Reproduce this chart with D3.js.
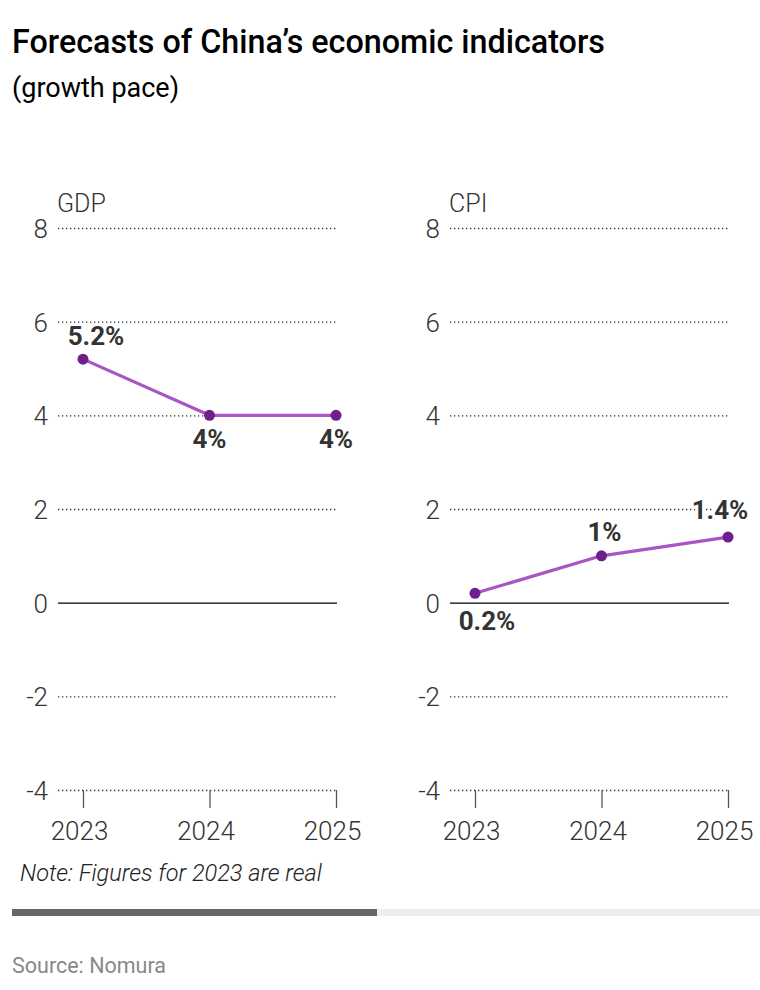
<!DOCTYPE html>
<html>
<head>
<meta charset="utf-8">
<script src="https://cdn.jsdelivr.net/npm/d3@7"></script>
<style>
  body { margin: 0; background: #fff; font-family: Roboto, sans-serif; }
  .title { font-size: 32.3px; font-weight: 500; fill: #000; }
  .subTitle { font-size: 27px; font-weight: 400; fill: #000; }
  .tick text { font-family: Roboto, sans-serif; font-size: 26px; font-weight: 300; fill: #333; }
  .panel-name { font-size: 25px; font-weight: 300; fill: #333; }
  .value-label { font-size: 26px; font-weight: 700; fill: #333; stroke: #fff; stroke-width: 6px; paint-order: stroke; stroke-linejoin: round; }
  .note { font-size: 23.5px; font-style: italic; font-weight: 300; fill: #222; }
  .source { font-size: 21.5px; fill: #888; }
</style>
</head>
<body>
<svg></svg>
<script>
// data
const years = [2023, 2024, 2025];
const gdpValues = [5.2, 4, 4];
const cpiValues = [0.2, 1, 1.4];
const yTicks = [-4, -2, 0, 2, 4, 6, 8];

function drawChart() {
    const svgWidth = 760, svgHeight = 990;
    const svg = d3.select('svg')
        .attr("width", svgWidth)
        .attr("height", svgHeight);

    // title
    svg.append("text").attr("class", "title")
        .attr("x", 12).attr("y", 53)
        .text("Forecasts of China’s economic indicators");

    svg.append("text").attr("class", "subTitle")
        .attr("x", 12).attr("y", 97)
        .text("(growth pace)");

    const y = d3.scaleLinear()
        .domain([-4, 8])
        .range([790, 228]);

    // panels: grid from left to right; label placement [dx, dy]
    const panels = [
        { name: "GDP", values: gdpValues, left: 58, right: 337, x0: 83,
          labelPos: [[13, -14], [0, 33], [0, 33]] },
        { name: "CPI", values: cpiValues, left: 450, right: 729, x0: 475,
          labelPos: [[12, 37], [3, -15], [-8, -18]] }
    ];

    for (let p of panels) {
        const x = d3.scalePoint()
            .domain(years)
            .range([p.x0, p.right - 1]);

        const g = svg.append("g");

        // dotted gridlines
        g.append("g")
            .selectAll("line")
            .data(yTicks.filter(d => d !== 0))
            .join("line")
            .attr("x1", p.left).attr("x2", p.right)
            .attr("y1", d => y(d) + 0.5).attr("y2", d => y(d) + 0.5)
            .attr("stroke", "#333")
            .attr("stroke-width", 1.3)
            .attr("stroke-dasharray", "1.3,2.7");

        // zero line
        g.append("line")
            .attr("x1", p.left).attr("x2", p.right)
            .attr("y1", y(0) + 0.5).attr("y2", y(0) + 0.5)
            .attr("stroke", "#000")
            .attr("stroke-width", 1.4);

        // y axis labels
        g.append("g")
            .attr("transform", `translate(${p.left - 10}, 0)`)
            .call(d3.axisLeft(y).tickValues(yTicks).tickSize(0).tickPadding(0).tickFormat(d => String(d)))
            .call(a => a.select(".domain").remove())
            .call(a => a.selectAll(".tick text").attr("dy", "0.36em"));

        // x axis
        g.append("g")
            .attr("transform", `translate(0, ${y(-4)})`)
            .call(d3.axisBottom(x).tickSize(18).tickPadding(6).tickFormat(d3.format("d")))
            .call(a => a.select(".domain").remove())
            .call(a => a.selectAll(".tick line").attr("stroke", "#555").attr("stroke-width", 1.3))
            .call(a => a.selectAll(".tick text").attr("dx", "-4").attr("dy", "1em"));

        // panel name
        g.append("text").attr("class", "panel-name")
            .attr("x", p.left - 1).attr("y", 212)
            .text(p.name);

        const data = years.map((yr, i) => ({ year: yr, value: p.values[i], pos: p.labelPos[i] }));

        const line = d3.line()
            .x(d => x(d.year))
            .y(d => y(d.value));

        g.append("path")
            .datum(data)
            .attr("fill", "none")
            .attr("stroke", "#aa55c6")
            .attr("stroke-width", 3.2)
            .attr("stroke-linejoin", "round")
            .attr("d", line);

        g.selectAll("circle")
            .data(data)
            .join("circle")
            .attr("cx", d => x(d.year))
            .attr("cy", d => y(d.value))
            .attr("r", 5.5)
            .attr("fill", "#6e1f8c");

        g.selectAll(".value-label")
            .data(data)
            .join("text")
            .attr("class", "value-label")
            .attr("text-anchor", "middle")
            .attr("x", d => x(d.year) + d.pos[0])
            .attr("y", d => y(d.value) + d.pos[1])
            .text(d => d3.format("~")(d.value) + "%");
    }

    // note
    svg.append("text").attr("class", "note")
        .attr("x", 20).attr("y", 881)
        .text("Note: Figures for 2023 are real");

    // scroll bar look
    svg.append("rect").attr("x", 12).attr("y", 909).attr("width", 748).attr("height", 7).attr("fill", "#eeeeee");
    svg.append("rect").attr("x", 12).attr("y", 909).attr("width", 365).attr("height", 7).attr("fill", "#666666");

    svg.append("text").attr("class", "source")
        .attr("x", 12).attr("y", 973)
        .text("Source: Nomura");
}

drawChart();
</script>
</body>
</html>
